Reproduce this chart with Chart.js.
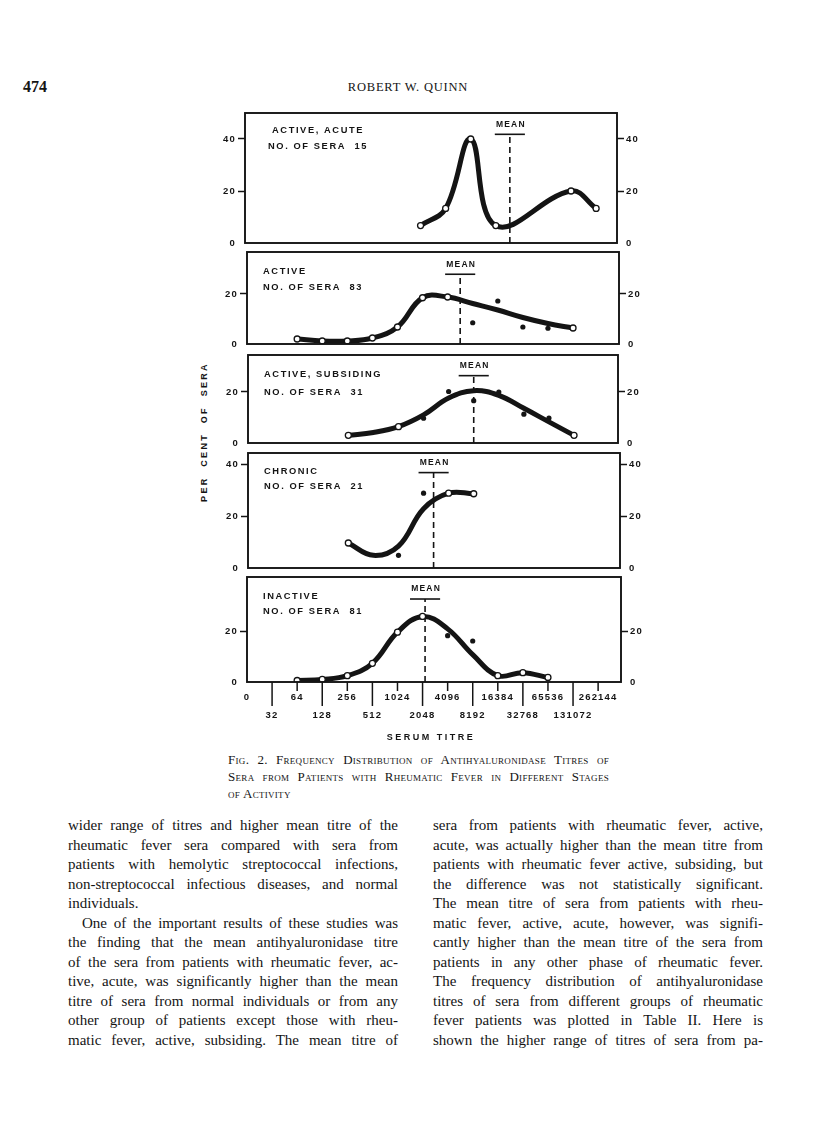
<!DOCTYPE html>
<html>
<head>
<meta charset="utf-8">
<script src="https://cdn.jsdelivr.net/npm/chart.js@4.4.0/dist/chart.umd.min.js"></script>
<style>
	body { margin: 0; background: #fff; width: 816px; height: 1130px; position: relative; overflow: hidden; color: #141414; font-family: "Liberation Serif", serif; }
	canvas { position: absolute; }
	.abs { position: absolute; white-space: nowrap; }
	#folio { left: 23px; top: 78px; font-size: 16px; font-weight: bold; }
	#runhead { left: 0; width: 816px; top: 80px; text-align: center; font-size: 12.5px; letter-spacing: 0.8px; }
	#ytitle { left: 204px; top: 432px; transform: translate(-50%, -50%) rotate(-90deg); font: bold 9px "Liberation Sans", sans-serif; letter-spacing: 2.3px; word-spacing: 5px; }
	#caption { left: 228px; top: 751px; width: 381px; font-size: 13px; line-height: 17px; font-variant: small-caps; letter-spacing: 0.3px; }
	.col { position: absolute; top: 816px; width: 330px; font-size: 15px; line-height: 19.5px; }
	.col div { white-space: nowrap; text-align: justify; text-align-last: justify; }
	.col div.last { text-align-last: left; }
	.col div.ind { padding-left: 14px; }
	#caption div { text-align: justify; text-align-last: justify; }
	#caption div.last { text-align-last: left; }
</style>
</head>
<body>
<div id="folio" class="abs">474</div>
<div id="runhead" class="abs">ROBERT W. QUINN</div>
<div id="ytitle" class="abs">PER CENT OF SERA</div>

<div id="caption" class="abs">
	<div>Fig. 2. Frequency Distribution of Antihyaluronidase Titres of</div>
	<div>Sera from Patients with Rheumatic Fever in Different Stages</div>
	<div class="last">of Activity</div>
</div>

<div class="col" style="left:68px">
	<div>wider range of titres and higher mean titre of the</div>
	<div>rheumatic fever sera compared with sera from</div>
	<div>patients with hemolytic streptococcal infections,</div>
	<div>non-streptococcal infectious diseases, and normal</div>
	<div class="last">individuals.</div>
	<div class="ind">One of the important results of these studies was</div>
	<div>the finding that the mean antihyaluronidase titre</div>
	<div>of the sera from patients with rheumatic fever, ac-</div>
	<div>tive, acute, was significantly higher than the mean</div>
	<div>titre of sera from normal individuals or from any</div>
	<div>other group of patients except those with rheu-</div>
	<div>matic fever, active, subsiding. The mean titre of</div>
</div>
<div class="col" style="left:433px">
	<div>sera from patients with rheumatic fever, active,</div>
	<div>acute, was actually higher than the mean titre from</div>
	<div>patients with rheumatic fever active, subsiding, but</div>
	<div>the difference was not statistically significant.</div>
	<div>The mean titre of sera from patients with rheu-</div>
	<div>matic fever, active, acute, however, was signifi-</div>
	<div>cantly higher than the mean titre of the sera from</div>
	<div>patients in any other phase of rheumatic fever.</div>
	<div>The frequency distribution of antihyaluronidase</div>
	<div>titres of sera from different groups of rheumatic</div>
	<div>fever patients was plotted in Table II. Here is</div>
	<div>shown the higher range of titres of sera from pa-</div>
</div>

<script>
// serum titre categories (x axis)
const titres = ['0', '32', '64', '128', '256', '512', '1024', '2048', '4096', '8192', '16384', '32768', '65536', '131072', '262144'];

const panelNames = ['ACTIVE, ACUTE', 'ACTIVE', 'ACTIVE, SUBSIDING', 'CHRONIC', 'INACTIVE'];
const seraCounts = [15, 83, 31, 21, 81];

// open circles, lying on the curve (x = titre index, y = per cent)
const openX = [[7, 8, 9, 10, 13, 14], [2, 3, 4, 5, 6, 7, 8, 13], [4, 6, 13], [4, 8, 9], [2, 3, 4, 5, 6, 7, 10, 11, 12]];
const openY = [[6.7, 13.3, 40, 6.7, 20, 13.3], [2, 1.2, 1.2, 2.4, 6.8, 18.5, 18.8, 6.4], [3, 6.4, 3], [9.7, 29, 28.8], [0.6, 1, 2.5, 7.4, 19.7, 25.9, 2.5, 3.7, 1.8]];

// filled dots, off the curve
const dotX = [[], [9, 10, 11, 12], [7, 8, 9, 10, 11, 12], [6, 7], [8, 9]];
const dotY = [[], [8.5, 17.2, 6.8, 6.3], [9.7, 20.2, 16.6, 20, 11.3, 9.8], [4.9, 29], [18.3, 16.2]];

// the drawn smooth curve
const curveX = [[7, 8, 9, 10, 13, 14], [2, 3, 4, 5, 6, 7, 8, 9, 10, 11, 12, 13], [4, 5, 6, 7, 8, 9, 10, 11, 12, 13], [4, 5, 6, 7, 8, 9], [2, 3, 4, 5, 6, 7, 8, 9, 10, 11, 12]];
const curveY = [[6.7, 13.3, 40, 6.7, 20, 13.3], [2, 1.2, 1.2, 2.4, 6.8, 18.5, 18.8, 16.2, 13.6, 10.6, 8.2, 6.4], [3, 4.1, 6.4, 11, 17.6, 20.5, 18.7, 13.6, 8.3, 3], [9.7, 4.9, 8.5, 23, 29, 28.8], [0.6, 1, 2.5, 7.4, 19.7, 25.9, 21, 10.8, 2.5, 3.7, 1.8]];

// mean titre (index) and height of its bar
const meanX = [10.56, 8.5, 9.0, 7.4, 7.1];
const meanBarY = [41.8, 27.9, 26.4, 37, 32.8];

// y axes
const yMax = [50, 36.8, 34.5, 44.6, 41.5];
const yTicks = [[0, 20, 40], [0, 20], [0, 20], [0, 20, 40], [0, 20]];

// layout (page px of each frame)
const frames = [
	{ l: 245, t: 113, w: 372, h: 130, dx: 27, dx2: 23, dy1: 17, dy2: 33 },
	{ l: 247, t: 252, w: 372, h: 92, dx: 16, dx2: 16, dy1: 19, dy2: 35 },
	{ l: 248, t: 355, w: 370, h: 88, dx: 16, dx2: 16, dy1: 19, dy2: 37 },
	{ l: 248, t: 453, w: 372, h: 115, dx: 16, dx2: 16, dy1: 18, dy2: 33 },
	{ l: 247, t: 577, w: 374, h: 105, dx: 16, dx2: 16, dy1: 19, dy2: 34 }
];
const INK = '#141414';
const stepPx = 25.08;
const meanHalf = 0.6;
const xAxisH = 62;
const axisFont = { family: '"Liberation Sans", sans-serif', size: 9.5, weight: 'bold' };

const inkPlugin = {
	id: 'ink',
	beforeDraw(chart) {
		chart.ctx.letterSpacing = '1.2px';
	},
	afterDraw(chart) {
		let ctx = chart.ctx;
		let a = chart.chartArea;
		let p = chart.options.plugins.ink;
		let sx = chart.scales.x, sy = chart.scales.y;
		ctx.save();
		ctx.strokeStyle = INK;
		ctx.fillStyle = INK;
		ctx.lineWidth = 1.9;
		ctx.strokeRect(a.left, a.top, a.right - a.left, a.bottom - a.top);

		ctx.font = 'bold 9.3px "Liberation Sans", sans-serif';
		ctx.letterSpacing = '1.6px';
		ctx.textBaseline = 'middle';
		ctx.textAlign = 'left';
		ctx.fillText(p.name, a.left + p.dx, a.top + p.dy1);
		ctx.fillText('NO. OF SERA  ' + p.count, a.left + p.dx2, a.top + p.dy2);

		let mx = sx.getPixelForValue(p.mean);
		let my = sy.getPixelForValue(p.meanY);
		ctx.font = 'bold 8.5px "Liberation Sans", sans-serif';
		ctx.letterSpacing = '1.2px';
		ctx.textAlign = 'center';
		ctx.fillText('MEAN', mx + 1, my - 10);

		if (p.bottom) {
			ctx.lineWidth = 1.5;
			titres.forEach((t, i) => {
				if (i === 0) return;
				let x = sx.getPixelForValue(i);
				ctx.beginPath();
				ctx.moveTo(x, a.bottom);
				ctx.lineTo(x, a.bottom + (i % 2 ? 24 : 9));
				ctx.stroke();
			});
			ctx.font = 'bold 9px "Liberation Sans", sans-serif';
			ctx.letterSpacing = '2.5px';
			ctx.fillText('SERUM TITRE', (a.left + a.right) / 2 - 3, a.bottom + 56);
		}
		ctx.restore();
	}
};

function yAxis(i, pos) {
	return {
		position: pos,
		min: 0,
		max: yMax[i],
		afterBuildTicks: s => { s.ticks = yTicks[i].map(v => ({ value: v })); },
		afterFit: s => { s.width = 34; },
		ticks: { color: INK, font: axisFont, padding: 2 },
		grid: {
			drawOnChartArea: false,
			tickLength: 7,
			tickWidth: 1.5,
			tickColor: c => c.tick && c.tick.value === 0 ? 'rgba(0,0,0,0)' : INK
		},
		border: { display: false }
	};
}

function pts(xs, ys) {
	return xs.map((x, k) => ({ x: x, y: ys[k] }));
}

function makePanel(i) {
	let f = frames[i];
	let last = i === frames.length - 1;
	let cv = document.createElement('canvas');
	let w = f.w + 80;
	let h = f.h + 10 + (last ? xAxisH + 4 : 10);
	cv.width = w;
	cv.height = h;
	cv.style.width = w + 'px';
	cv.style.height = h + 'px';
	cv.style.left = (f.l - 40) + 'px';
	cv.style.top = (f.t - 10) + 'px';
	document.body.appendChild(cv);

	let mx = meanX[i], my = meanBarY[i];

	new Chart(cv, {
		type: 'scatter',
		data: {
			datasets: [
				{
					data: [{ x: mx, y: 0 }, { x: mx, y: my }],
					showLine: true, borderColor: INK, borderWidth: 1.6, borderDash: [6, 4],
					pointRadius: 0, order: 5
				},
				{
					data: [{ x: mx - meanHalf, y: my }, { x: mx + meanHalf, y: my }],
					showLine: true, borderColor: INK, borderWidth: 1.6,
					pointRadius: 0, order: 5
				},
				{
					data: pts(curveX[i], curveY[i]),
					showLine: true, tension: 0.4, borderColor: INK, borderWidth: 5,
					borderCapStyle: 'round', pointRadius: 0, order: 3
				},
				{
					data: pts(dotX[i], dotY[i]),
					pointRadius: 2.6, pointBackgroundColor: INK, pointBorderColor: INK, pointBorderWidth: 0, order: 2
				},
				{
					data: pts(openX[i], openY[i]),
					pointRadius: 3, pointBackgroundColor: '#fff', pointBorderColor: INK, pointBorderWidth: 1.3, order: 1
				}
			]
		},
		options: {
			responsive: false,
			maintainAspectRatio: false,
			animation: false,
			devicePixelRatio: 1,
			layout: { padding: { left: 6, right: 6, top: 10, bottom: last ? 4 : 10 } },
			plugins: {
				legend: { display: false },
				tooltip: { enabled: false },
				ink: {
					name: panelNames[i], count: seraCounts[i], mean: mx, meanY: my,
					dx: f.dx, dx2: f.dx2, dy1: f.dy1, dy2: f.dy2, bottom: last
				}
			},
			scales: {
				x: {
					type: 'linear',
					min: 0,
					max: f.w / stepPx,
					display: last,
					afterBuildTicks: s => { s.ticks = titres.map((t, k) => ({ value: k })); },
					afterFit: s => { s.height = last ? xAxisH : 0; },
					ticks: {
						color: INK, padding: 6, autoSkip: false, maxRotation: 0,
						font: { family: '"Liberation Sans", sans-serif', size: 9.5, weight: 'bold', lineHeight: 1.9 },
						callback: v => v % 2 ? ['', titres[v]] : titres[v]
					},
					grid: { display: false, drawTicks: false },
					border: { display: false }
				},
				y: yAxis(i, 'left'),
				y2: yAxis(i, 'right')
			}
		},
		plugins: [inkPlugin]
	});
}

frames.forEach((f, i) => makePanel(i));
</script>
</body>
</html>
